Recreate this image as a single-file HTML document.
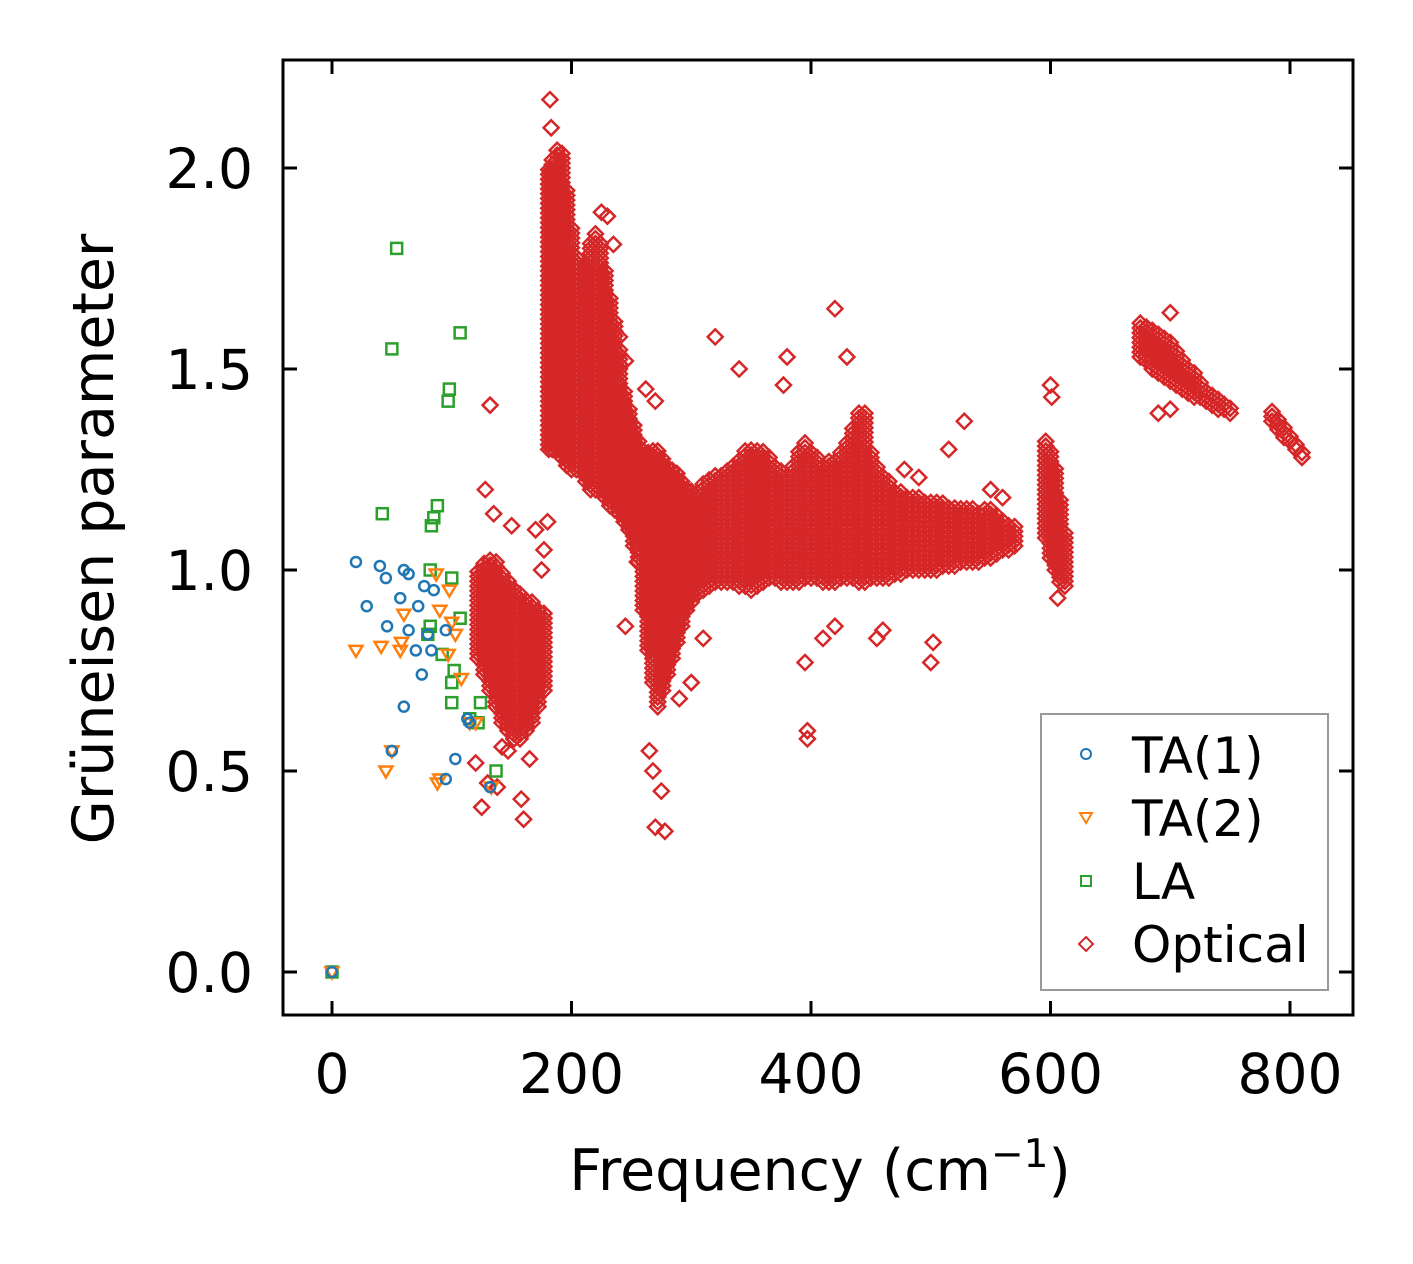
<!DOCTYPE html>
<html><head><meta charset="utf-8"><style>
html,body{margin:0;padding:0;background:#fff}
svg{display:block}
text{font-family:"DejaVu Sans","Liberation Sans",sans-serif;fill:#000}
</style></head><body>
<svg id="chart" width="1413" height="1264" viewBox="0 0 1413 1264" xmlns="http://www.w3.org/2000/svg">
<rect x="0" y="0" width="1413" height="1264" fill="#fff"/>
<g id="marks"></g>
<g id="axes"></g>
<text x="820" y="1190" font-size="57" text-anchor="middle">Frequency (cm<tspan font-size="39" dy="-23">−1</tspan><tspan dy="23">)</tspan></text>
<text transform="translate(113,539) rotate(-90)" font-size="57" text-anchor="middle">Grüneisen parameter</text>
<g>
<rect x="1041" y="714" width="287" height="276" fill="#fff" fill-opacity="0.8" stroke="#999" stroke-width="2"/>
<circle cx="1086" cy="754" r="5" fill="none" stroke="#1f77b4" stroke-width="2"/>
<text x="1132" y="773" font-size="50">TA(1)</text>
<polygon points="1080,813 1092,813 1086,823" fill="none" stroke="#ff7f0e" stroke-width="2"/>
<text x="1132" y="836" font-size="50">TA(2)</text>
<rect x="1081" y="876" width="10" height="10" fill="none" stroke="#2ca02c" stroke-width="2"/>
<text x="1132" y="899" font-size="50">LA</text>
<polygon points="1086,937 1093,944 1086,951 1079,944" fill="none" stroke="#d62728" stroke-width="2"/>
<text x="1132" y="962" font-size="50">Optical</text>
</g>
</svg>
<script>
const xTicks=[0,200,400,600,800];
const yTicks=[0.0,0.5,1.0,1.5,2.0];
const xTickLabels=["0","200","400","600","800"];
const yTickLabels=["0.0","0.5","1.0","1.5","2.0"];
const ta1X=[0,20,29,40,45,46,50,57,60,60,64,64,70,72,75,77,83,85,80,95,95,103,115,132,113];
const ta1Y=[0,1.02,0.91,1.01,0.98,0.86,0.55,0.93,1.0,0.66,0.99,0.85,0.8,0.91,0.74,0.96,0.8,0.95,0.84,0.85,0.48,0.53,0.62,0.46,0.63];
const ta2X=[0,20,41,45,50,57,58,60,87,90,88,90,98,100,103,108,115,120,133,97];
const ta2Y=[0,0.8,0.81,0.5,0.55,0.8,0.82,0.89,0.99,0.9,0.47,0.48,0.95,0.87,0.84,0.73,0.62,0.62,0.46,0.79];
const laX=[0,54,50,107,98,97,42,88,85,83,82,82,80,100,107,92,100,102,100,115,124,137,122];
const laY=[0,1.8,1.55,1.59,1.45,1.42,1.14,1.16,1.13,1.11,1.0,0.86,0.84,0.98,0.88,0.79,0.72,0.75,0.67,0.63,0.67,0.5,0.62];
// optical branch dense spread: frequency, min gamma, max gamma
const optBandX=[122,127,132,137,142,147,152,157,162,167,172,177,181,184,188,192,196,200,204,208,212,216,220,224,228,232,236,240,244,248,252,256,260,264,268,272,276,280,284,288,292,296,300,305,310,315,320,325,330,335,340,345,350,355,360,365,370,375,380,385,390,395,400,405,410,415,420,425,430,435,440,445,450,455,460,465,470,475,480,485,490,495,500,505,510,515,520,525,530,535,540,545,550,555,560,565,570,596,600,604,608,612,675,680,685,690,695,700,705,710,715,720,725,730,735,740,745,750,785,790,795,800,805,810];
const optBandLo=[0.78,0.74,0.7,0.66,0.62,0.6,0.58,0.58,0.6,0.62,0.66,0.7,1.3,1.3,1.3,1.28,1.26,1.25,1.25,1.25,1.22,1.2,1.2,1.2,1.18,1.16,1.15,1.14,1.12,1.1,1.06,1.02,0.9,0.8,0.72,0.66,0.7,0.74,0.78,0.82,0.86,0.9,0.92,0.94,0.95,0.96,0.97,0.97,0.97,0.97,0.96,0.96,0.95,0.96,0.97,0.98,0.98,0.97,0.97,0.97,0.97,0.98,0.98,0.98,0.97,0.97,0.97,0.98,0.98,0.98,0.97,0.97,0.98,0.98,0.98,0.98,0.99,0.99,1.0,1.0,1.0,1.0,1.0,1.0,1.01,1.01,1.01,1.02,1.02,1.02,1.02,1.03,1.03,1.04,1.05,1.05,1.06,1.08,1.03,1.0,0.97,0.96,1.53,1.52,1.5,1.49,1.48,1.47,1.46,1.45,1.44,1.43,1.43,1.42,1.41,1.4,1.4,1.39,1.37,1.35,1.33,1.32,1.3,1.28];
const optBandHi=[1.0,1.02,1.03,1.02,1.0,0.98,0.96,0.94,0.93,0.92,0.91,0.9,2.0,2.03,2.05,2.04,1.95,1.85,1.78,1.74,1.76,1.82,1.84,1.82,1.75,1.68,1.62,1.55,1.45,1.4,1.36,1.33,1.3,1.3,1.3,1.3,1.28,1.26,1.25,1.24,1.22,1.2,1.2,1.2,1.22,1.23,1.24,1.24,1.25,1.26,1.28,1.3,1.3,1.3,1.3,1.28,1.26,1.25,1.24,1.26,1.3,1.32,1.3,1.28,1.26,1.27,1.28,1.3,1.32,1.36,1.4,1.4,1.3,1.26,1.24,1.22,1.2,1.2,1.19,1.18,1.18,1.17,1.17,1.17,1.17,1.16,1.16,1.16,1.16,1.16,1.15,1.15,1.15,1.14,1.13,1.12,1.11,1.32,1.3,1.26,1.18,1.1,1.62,1.61,1.6,1.59,1.58,1.57,1.55,1.53,1.51,1.49,1.47,1.45,1.44,1.43,1.42,1.41,1.4,1.38,1.36,1.34,1.32,1.3];
const optX=[182,183,132,320,420,700,340,380,430,528,515,278,270,275,268,265,397,397,395,500,410,420,160,125,138,158,128,135,150,170,460,455,502,245,255,230,225,235,240,245,262,270,550,560,478,490,600,601,606,690,700,377,180,177,175,120,130,165,142,147,152,300,310,290];
const optY=[2.17,2.1,1.41,1.58,1.65,1.64,1.5,1.53,1.53,1.37,1.3,0.35,0.36,0.45,0.5,0.55,0.6,0.58,0.77,0.77,0.83,0.86,0.38,0.41,0.46,0.43,1.2,1.14,1.11,1.1,0.85,0.83,0.82,0.86,1.02,1.88,1.89,1.81,1.58,1.52,1.45,1.42,1.2,1.18,1.25,1.23,1.46,1.43,0.93,1.39,1.4,1.46,1.12,1.05,1.0,0.52,0.47,0.53,0.56,0.55,0.58,0.72,0.83,0.68];

const X0=283,X1=1353,Y0=60,Y1=1015;
function sx(v){return 332+v*(1290-332)/800;}
function sy(v){return 972-v*(972-168)/2;}
const NS="http://www.w3.org/2000/svg";
const marks=document.getElementById('marks');
const axes=document.getElementById('axes');
function mk(tag,attrs,parent){const e=document.createElementNS(NS,tag);for(const k in attrs)e.setAttribute(k,attrs[k]);parent.appendChild(e);return e;}
function diamond(x,y){const r=7.5;return `${x},${y-r} ${x+r},${y} ${x},${y+r} ${x-r},${y}`;}

const gBand=mk('g',{},marks);


for(let i=0;i<optBandX.length;i++){
  const x=sx(optBandX[i]);
  for(let g=optBandLo[i];g<=optBandHi[i]+1e-9;g+=0.012){
    const p=mk('polygon',{points:diamond(x,sy(g)),fill:'none',stroke:'#d62728','stroke-width':2.5},gBand);
    
    
  }
}
const gOpt=mk('g',{},marks);


for(let i=0;i<optX.length;i++){
  const p=mk('polygon',{points:diamond(sx(optX[i]),sy(optY[i])),fill:'none',stroke:'#d62728','stroke-width':2.5},gOpt);
  
  
}
const gLA=mk('g',{},marks);


for(let i=0;i<laX.length;i++){
  const p=mk('rect',{x:sx(laX[i])-5.5,y:sy(laY[i])-5.5,width:11,height:11,fill:'none',stroke:'#2ca02c','stroke-width':2.5},gLA);
  
  
}
const gT2=mk('g',{},marks);


for(let i=0;i<ta2X.length;i++){
  const x=sx(ta2X[i]),y=sy(ta2Y[i]);
  const p=mk('polygon',{points:`${x-6.5},${y-4.5} ${x+6.5},${y-4.5} ${x},${y+6.5}`,fill:'none',stroke:'#ff7f0e','stroke-width':2.5},gT2);
  
  
}
const gT1=mk('g',{},marks);


for(let i=0;i<ta1X.length;i++){
  const p=mk('circle',{cx:sx(ta1X[i]),cy:sy(ta1Y[i]),r:5,fill:'none',stroke:'#1f77b4','stroke-width':2.5},gT1);
  
  
}

const frame=mk('rect',{x:X0,y:Y0,width:X1-X0,height:Y1-Y0,fill:'none',stroke:'#000','stroke-width':3},axes);


for(let i=0;i<xTicks.length;i++){
  const x=sx(xTicks[i]);
  mk('line',{x1:x,x2:x,y1:Y1,y2:Y1-14,stroke:'#000','stroke-width':3},axes);
  mk('line',{x1:x,x2:x,y1:Y0,y2:Y0+14,stroke:'#000','stroke-width':3},axes);
  const t=mk('text',{x:x,y:1093,'font-size':55,'text-anchor':'middle'},axes);
  t.textContent=xTickLabels[i];
  
  
}
for(let i=0;i<yTicks.length;i++){
  const y=sy(yTicks[i]);
  mk('line',{x1:X0,x2:X0+14,y1:y,y2:y,stroke:'#000','stroke-width':3},axes);
  mk('line',{x1:X1,x2:X1-14,y1:y,y2:y,stroke:'#000','stroke-width':3},axes);
  const t=mk('text',{x:253,y:y+20,'font-size':55,'text-anchor':'end'},axes);
  t.textContent=yTickLabels[i];
  
  
}
</script>
</body></html>
